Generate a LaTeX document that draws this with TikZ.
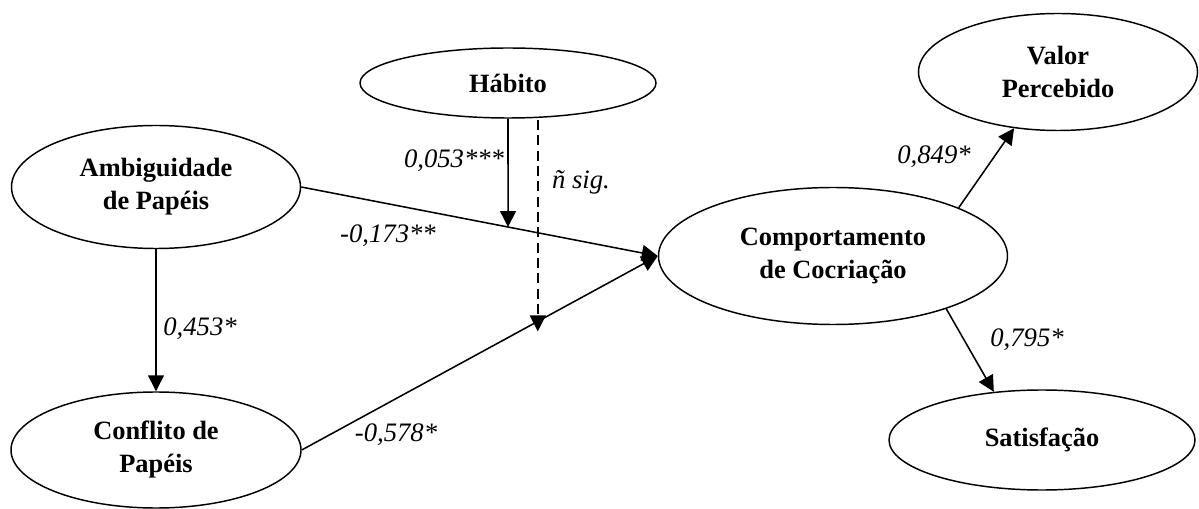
\documentclass[tikz,border=0pt]{standalone}
\usepackage{fontspec}
\setmainfont{Liberation Serif}
\usetikzlibrary{shapes.geometric,arrows.meta}

\begin{document}
\begin{tikzpicture}[x=0.75pt,y=0.75pt,yscale=-1,xscale=1,
        construct/.style={draw,ellipse,line width=1.1pt,inner sep=0pt,align=center,
            font=\fontsize{19.8}{24.75}\selectfont\bfseries},
        effect/.style={line width=1.15pt,-{Triangle[width=12pt,length=12pt]}},
        coef/.style={font=\fontsize{20}{24}\selectfont\itshape}]
        \useasboundingbox (0,0) rectangle (1199,509);

        %Ellipse [id:habito]
        \node[construct,minimum width=222pt,minimum height=52.5pt] (habito) at (508,83) {Hábito};
        %Ellipse [id:ambig]
        \node[construct,minimum width=216.75pt,minimum height=92.25pt] (ambig) at (156,187) {Ambiguidade\\de Papéis};
        %Ellipse [id:conflito]
        \node[construct,minimum width=217.5pt,minimum height=87pt] (conflito) at (156,450) {Conflito de\\Papéis};
        %Ellipse [id:comport]
        \node[construct,minimum width=261.75pt,minimum height=102.75pt] (comport) at (833,256) {Comportamento\\de Cocriação};
        %Ellipse [id:valor]
        \node[construct,minimum width=209.25pt,minimum height=87.75pt] (valor) at (1058,72) {Valor\\Percebido};
        %Ellipse [id:satisf]
        \node[construct,minimum width=229.5pt,minimum height=75pt] (satisf) at (1042,440) {Satisfação};

        %Straight Lines with arrows
        \draw[effect] (ambig.south) -- (conflito.north);
        \draw[effect] (ambig.east) -- (comport.west) coordinate[pos=0.58] (modA);
        \draw[effect] (conflito.east) -- (comport.west) coordinate[pos=0.663] (modB);
        \draw[effect] (comport.21) -- (valor.232);
        \draw[effect] (comport.-25) -- (satisf.135);
        %Moderation
        \draw[effect] (habito.south) -- (modA);
        \draw[effect,dash pattern=on 7.5pt off 4pt] ([yshift=1pt]modB |- habito.south) -- ([yshift=7.5pt]modB);

        % Text Node
        \node[coef] (lhab) at (454,161) {0,053***};
        % Text Node
        \node[coef] (lns) at (581,182) {ñ sig.};
        % Text Node
        \node[coef] (lamb) at (388,236) {-0,173**};
        % Text Node
        \node[coef] (lcon) at (396,435) {-0,578*};
        % Text Node
        \node[coef] (lac) at (200,329) {0,453*};
        % Text Node
        \node[coef] (lval) at (934,157) {0,849*};
        % Text Node
        \node[coef] (lsat) at (1027,340) {0,795*};
\end{tikzpicture}
\end{document}
